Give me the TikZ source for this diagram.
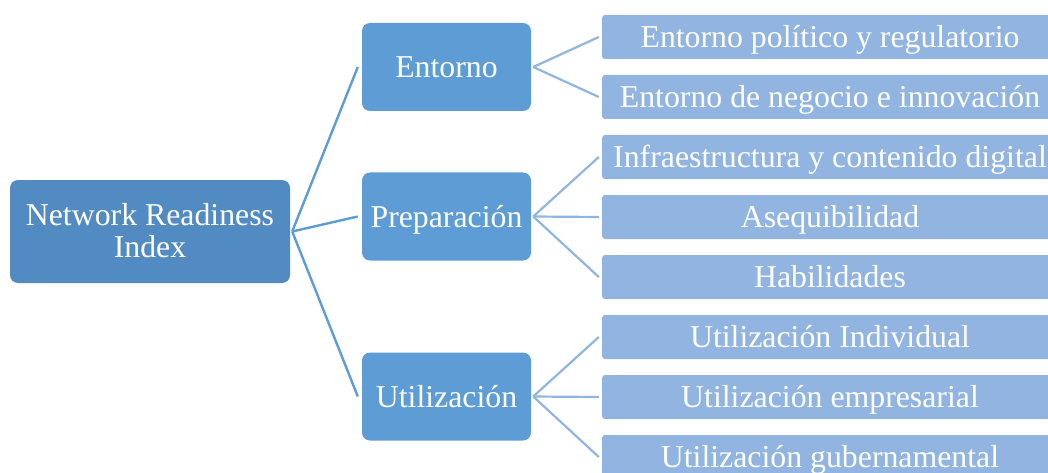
\documentclass[tikz,border=0pt]{standalone}
\usepackage{fontspec}
\setmainfont{Liberation Serif}
\definecolor{rootblue}{RGB}{82,139,194}
\definecolor{midblue}{RGB}{93,156,213}
\definecolor{leafblue}{RGB}{145,181,224}
\tikzset{
  rootbox/.style={fill=rootblue, draw=none, rounded corners=8pt, minimum width=280pt, minimum height=103pt, inner sep=0pt, text=white, align=center, font=\fontsize{31.8}{32}\selectfont},
  midbox/.style={fill=midblue, draw=none, rounded corners=8pt, minimum width=169pt, minimum height=88pt, inner sep=0pt, text=white, font=\fontsize{31.8}{32}\selectfont, text height=27pt, text depth=6pt},
  leafbox/.style={fill=leafblue, draw=none, rounded corners=3pt, minimum width=456pt, minimum height=44pt, inner sep=0pt, text=white, font=\fontsize{31.8}{32}\selectfont, text height=27pt, text depth=6pt},
  rootline/.style={draw=midblue, line width=2.4pt},
  leafline/.style={draw=leafblue, line width=2.2pt}
}
\begin{document}
\begin{tikzpicture}[x=1pt,y=-1pt]
\useasboundingbox (0,0) rectangle (1048,473);
\clip (0,0) rectangle (1048,473);
\node[rootbox, text height=58pt, text depth=6pt] (root) at (150,231.5) {Network Readiness\\Index};
\node[midbox] (ent) at (446.5,67) {Entorno};
\node[midbox] (pre) at (446.5,216.5) {Preparación};
\node[midbox] (uti) at (446.5,396.5) {Utilización};
\node[leafbox] (l1) at (830,37) {Entorno político y regulatorio};
\node[leafbox] (l2) at (830,97) {Entorno de negocio e innovación};
\node[leafbox] (l3) at (830,157) {Infraestructura y contenido digital};
\node[leafbox] (l4) at (830,217) {Asequibilidad};
\node[leafbox] (l5) at (830,277) {Habilidades};
\node[leafbox] (l6) at (830,337) {Utilización Individual};
\node[leafbox] (l7) at (830,397) {Utilización empresarial};
\node[leafbox] (l8) at (830,457) {Utilización gubernamental};
\foreach \m in {ent,pre,uti}
  \draw[rootline] ([xshift=2pt]root.east) -- ([xshift=-4pt]\m.west);
\foreach \l in {l1,l2}
  \draw[leafline] ([xshift=2pt]ent.east) -- ([xshift=-3pt]\l.west);
\foreach \l in {l3,l4,l5}
  \draw[leafline] ([xshift=2pt]pre.east) -- ([xshift=-3pt]\l.west);
\foreach \l in {l6,l7,l8}
  \draw[leafline] ([xshift=2pt]uti.east) -- ([xshift=-3pt]\l.west);
\end{tikzpicture}
\end{document}
